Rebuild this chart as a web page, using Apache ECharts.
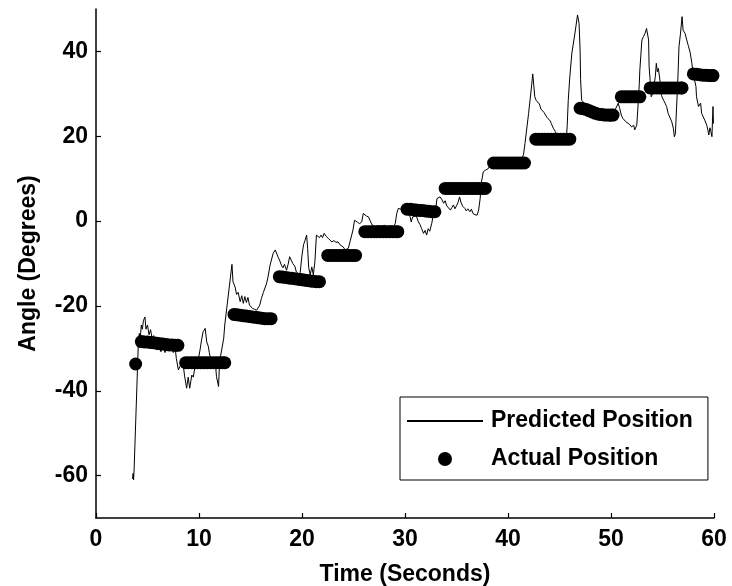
<!DOCTYPE html>
<html>
<head>
<meta charset="utf-8">
<script src="https://cdn.jsdelivr.net/npm/echarts@6/dist/echarts.min.js"></script>
<style>html,body{margin:0;padding:0;background:#fff;}#chart{width:732px;height:586px;}</style>
</head>
<body>
<div id="chart"></div>
<script>
// Predicted position (time in seconds, angle in degrees)
var predictedTime = [3.55,3.6,3.65,3.7,4.1,4.2,4.3,4.4,4.5,4.6,4.75,4.85,5.0,5.15,5.3,5.45,5.6,5.75,5.9,6.1,6.3,6.5,6.7,6.9,7.1,7.3,7.5,7.7,7.8,8.0,8.2,8.45,8.6,8.8,8.95,9.1,9.3,9.45,9.6,9.9,10.1,10.25,10.4,10.6,10.75,10.9,11.0,11.2,11.4,11.6,11.7,11.9,12.0,12.2,12.4,12.5,13.2,13.3,13.5,13.65,13.8,14.0,14.15,14.3,14.45,14.6,14.75,14.9,15.05,15.2,15.4,15.6,15.9,16.05,16.25,16.4,16.55,16.7,16.9,17.2,17.4,17.55,17.7,17.85,18.0,18.15,18.3,18.5,18.65,18.8,18.95,19.1,19.3,19.45,19.6,19.8,20.0,20.15,20.3,20.45,20.55,20.65,20.8,20.95,21.1,21.25,21.4,21.55,21.7,21.85,22.0,22.15,22.35,22.6,22.9,23.1,23.3,23.5,23.7,23.85,24.0,24.2,24.35,24.5,24.7,24.95,25.1,25.25,25.4,25.6,25.8,25.95,26.1,26.25,26.45,26.6,26.8,27.1,27.4,27.7,28.0,28.3,28.6,28.9,29.05,29.2,29.35,29.6,29.9,30.2,30.5,30.6,30.75,30.9,31.1,31.3,31.45,31.6,31.8,31.95,32.1,32.25,32.4,32.6,32.75,33.0,33.1,33.25,33.4,33.6,33.75,33.9,34.05,34.2,34.4,34.55,34.7,34.85,35.0,35.15,35.3,35.45,35.6,35.8,35.95,36.1,36.3,36.45,36.6,36.8,37.0,37.15,37.3,37.4,37.6,37.8,38.1,38.25,38.5,39.0,39.5,40.0,40.5,41.0,41.3,41.5,41.65,42.0,42.3,42.4,42.5,42.6,42.75,42.9,43.05,43.2,43.35,43.5,43.65,43.8,43.95,44.1,44.2,44.4,44.6,44.8,45.1,45.4,45.7,45.75,45.85,46.0,46.2,46.5,46.75,46.9,47.0,47.05,47.15,47.4,47.8,48.2,48.6,49.0,49.4,49.7,49.9,50.1,50.4,50.7,50.85,51.0,51.15,51.3,51.45,51.6,51.8,52.0,52.2,52.3,52.5,52.6,52.75,52.8,53.0,53.15,53.3,53.45,53.55,53.65,53.7,53.8,53.9,54.05,54.3,54.4,54.5,54.6,54.75,54.9,55.1,55.25,55.4,55.55,55.7,55.9,56.05,56.15,56.25,56.4,56.5,56.6,56.75,56.9,57.0,57.2,57.35,57.5,57.7,57.85,58.0,58.25,58.3,58.5,58.7,58.8,58.95,59.1,59.3,59.4,59.5,59.6,59.7,59.8,59.9,59.95];
var predictedAngle = [-60.8,-59.5,-61.0,-58.5,-29.6,-26.5,-27.5,-24.5,-25.5,-23.5,-22.6,-25.5,-24.5,-26.8,-25.6,-27.8,-27.0,-29.5,-30.4,-29.0,-30.8,-29.4,-31.0,-29.8,-30.6,-29.8,-31.0,-30.2,-32.4,-35.1,-34.0,-33.6,-36.5,-39.4,-36.8,-39.4,-36.3,-36.8,-34.4,-33.0,-30.4,-28.0,-26.1,-25.3,-28.5,-29.5,-31.0,-33.5,-32.8,-33.8,-36.7,-39.0,-33.0,-30.4,-27.6,-24.5,-10.2,-14.3,-15.5,-17.3,-16.8,-19.0,-17.6,-19.4,-17.8,-19.2,-18.0,-19.8,-19.4,-20.6,-20.8,-21.0,-19.8,-18.3,-16.8,-17.0,-14.8,-13.2,-10.4,-7.6,-6.8,-7.2,-8.6,-9.4,-10.4,-11.0,-10.2,-11.6,-10.2,-8.4,-9.2,-10.0,-10.6,-12.0,-11.6,-12.7,-8.0,-5.6,-4.5,-3.3,-6.5,-11.0,-12.7,-10.8,-12.7,-9.6,-3.3,-3.5,-3.9,-3.3,-3.9,-2.9,-3.6,-4.2,-4.9,-4.6,-5.0,-4.9,-5.6,-5.4,-6.1,-6.8,-6.9,-6.4,-4.5,-2.1,0.2,0.6,-0.3,-0.6,-0.2,1.8,2.0,1.2,1.0,0.9,-0.9,-1.3,-1.1,-1.2,-1.0,-1.3,-1.1,-1.3,-0.6,1.8,3.0,2.8,2.0,1.8,1.0,-0.2,1.0,0.6,1.2,-0.2,-0.8,-1.7,-2.9,-2.2,-3.3,-1.8,-2.4,-0.5,1.4,3.0,5.3,5.0,5.7,5.0,4.2,4.8,3.6,4.0,2.6,3.2,3.8,2.9,3.6,4.4,5.7,4.3,3.5,3.0,2.4,2.9,2.2,2.8,1.8,1.5,1.4,2.6,5.4,8.9,11.6,12.0,12.4,13.2,13.6,13.5,13.9,13.6,14.0,13.8,14.5,15.6,18.3,25.4,32.1,34.7,32.1,29.3,28.4,28.8,27.6,26.4,26.8,25.6,26.0,24.4,24.8,23.6,23.0,21.9,21.1,19.8,19.5,19.6,20.7,22.6,28.5,34.0,39.6,44.3,48.6,46.6,40.3,33.3,28.5,27.8,26.8,26.0,25.2,24.8,24.5,24.0,23.4,24.2,26.2,27.8,26.5,25.0,24.2,24.6,23.4,23.8,22.8,22.2,22.6,21.5,22.6,26.2,32.5,35.6,42.7,43.5,44.2,45.4,45.7,42.7,36.4,33.2,29.3,30.0,34.0,37.2,35.2,36.0,33.2,29.6,28.5,27.8,27.0,25.4,25.0,23.4,21.9,19.9,20.6,28.5,34.0,41.1,44.3,48.2,45.0,44.2,42.7,41.4,39.6,37.2,34.5,31.7,29.3,27.0,27.8,25.4,25.0,23.8,22.6,21.5,20.3,22.0,21.1,19.9,27.0,23.0];

// Actual position (time in seconds, angle in degrees)
var actualTime = [3.85,
  4.4,4.7,5.0,5.3,5.6,5.9,6.2,6.5,6.8,7.1,7.4,7.7,7.95,
  8.7,9.0,9.3,9.6,9.9,10.2,10.5,10.8,11.1,11.4,11.7,12.0,12.3,12.5,
  13.4,13.7,14.0,14.3,14.6,14.9,15.2,15.5,15.8,16.1,16.4,16.7,17.0,
  17.8,18.1,18.4,18.7,19.0,19.3,19.6,19.9,20.2,20.5,20.8,21.1,21.4,21.7,
  22.5,22.8,23.1,23.4,23.7,24.0,24.3,24.6,24.9,25.2,
  26.1,26.4,26.7,27.0,27.3,27.6,27.9,28.2,28.5,28.8,29.1,29.3,
  30.2,30.5,30.8,31.1,31.4,31.7,32.0,32.3,32.6,32.9,
  33.9,34.2,34.5,34.8,35.1,35.4,35.7,36.0,36.3,36.6,36.9,37.2,37.5,37.8,
  38.6,38.9,39.2,39.5,39.8,40.1,40.4,40.7,41.0,41.3,41.6,
  42.7,43.0,43.3,43.6,43.9,44.2,44.5,44.8,45.1,45.4,45.7,46.0,
  47.0,47.3,47.6,47.9,48.2,48.5,48.8,49.1,49.4,49.7,50.0,50.2,
  51.0,51.3,51.6,51.9,52.2,52.5,52.8,
  53.8,54.1,54.4,54.7,55.0,55.3,55.6,55.9,56.2,56.5,56.8,56.9,
  58.0,58.3,58.6,58.9,59.2,59.5,59.8,59.9];
var actualAngle = [-33.7,
  -28.4,-28.5,-28.5,-28.6,-28.7,-28.8,-28.9,-29.0,-29.1,-29.2,-29.2,-29.3,-29.3,
  -33.4,-33.4,-33.4,-33.4,-33.4,-33.4,-33.4,-33.4,-33.4,-33.4,-33.4,-33.4,-33.4,-33.4,
  -22.0,-22.1,-22.2,-22.3,-22.4,-22.5,-22.6,-22.7,-22.8,-22.9,-23.0,-23.0,-23.0,
  -13.1,-13.2,-13.3,-13.4,-13.5,-13.6,-13.7,-13.8,-13.9,-14.0,-14.1,-14.2,-14.3,-14.3,
  -8.1,-8.1,-8.1,-8.1,-8.1,-8.1,-8.1,-8.1,-8.1,-8.1,
  -2.5,-2.5,-2.5,-2.5,-2.5,-2.5,-2.5,-2.5,-2.5,-2.5,-2.5,-2.5,
  2.8,2.8,2.7,2.6,2.5,2.5,2.4,2.3,2.2,2.2,
  7.7,7.7,7.7,7.7,7.7,7.7,7.7,7.7,7.7,7.7,7.7,7.7,7.7,7.7,
  13.7,13.7,13.7,13.7,13.7,13.7,13.7,13.7,13.7,13.7,13.7,
  19.3,19.3,19.3,19.3,19.3,19.3,19.3,19.3,19.3,19.3,19.3,19.3,
  26.6,26.5,26.3,26.0,25.7,25.4,25.2,25.1,25.0,25.0,25.0,25.0,
  29.3,29.3,29.3,29.3,29.3,29.3,29.3,
  31.4,31.4,31.4,31.4,31.4,31.4,31.4,31.4,31.4,31.4,31.4,31.4,
  34.7,34.6,34.5,34.4,34.4,34.3,34.3,34.3];

var xTicks = [0, 10, 20, 30, 40, 50, 60];
var yTicks = [-60, -40, -20, 0, 20, 40];
var seriesNames = ['Predicted Position', 'Actual Position'];

var predictedData = predictedTime.map(function (t, i) { return [t, predictedAngle[i]]; });
var actualData = actualTime.map(function (t, i) { return [t, actualAngle[i]]; });

var FONT = '"Liberation Sans", Arial, Helvetica, sans-serif';
var chart = echarts.init(document.getElementById('chart'), null, { renderer: 'canvas' });
chart.setOption({
  animation: false,
  backgroundColor: '#ffffff',
  textStyle: { fontFamily: FONT, color: '#000' },
  grid: { left: 96, right: 18, top: 9, bottom: 68, containLabel: false, outerBoundsMode: 'none' },
  xAxis: {
    type: 'value', min: 0, max: 60, interval: 10,
    name: 'Time (Seconds)', nameLocation: 'middle', nameGap: 45,
    nameTextStyle: { fontSize: 23, fontWeight: 'bold', color: '#000', fontFamily: FONT },
    axisLine: { show: true, onZero: false, lineStyle: { color: '#000', width: 1.5 } },
    axisTick: { show: true, inside: true, length: 5, lineStyle: { color: '#000', width: 1.2 } },
    axisLabel: { fontSize: 23, fontWeight: 'bold', color: '#000', margin: 10, fontFamily: FONT, customValues: xTicks },
    splitLine: { show: false }
  },
  yAxis: {
    type: 'value', min: -70, max: 50,
    name: 'Angle (Degrees)', nameLocation: 'middle', nameGap: 56, nameRotate: 90,
    nameTextStyle: { fontSize: 23, fontWeight: 'bold', color: '#000', fontFamily: FONT },
    axisLine: { show: true, onZero: false, lineStyle: { color: '#000', width: 1.5 } },
    axisTick: { show: true, inside: true, length: 5, customValues: yTicks, lineStyle: { color: '#000', width: 1.2 } },
    axisLabel: { fontSize: 23, fontWeight: 'bold', color: '#000', margin: 8, fontFamily: FONT, customValues: yTicks },
    splitLine: { show: false }
  },
  legend: {
    data: [
      { name: seriesNames[0], itemStyle: { color: 'rgba(0,0,0,0)', borderColor: 'rgba(0,0,0,0)', borderWidth: 0, opacity: 0 } },
      { name: seriesNames[1] }
    ],
    orient: 'vertical',
    left: 400, top: 397,
    padding: [12, 15, 9, 6],
    itemGap: 14,
    itemWidth: 76, itemHeight: 14,
    borderColor: '#000', borderWidth: 1, borderRadius: 0,
    backgroundColor: '#fff',
    textStyle: { fontSize: 23, fontWeight: 'bold', color: '#000', fontFamily: FONT, lineHeight: 24, padding: [0, 0, 0, 3] },
    selectedMode: false
  },
  series: [
    {
      name: seriesNames[0], type: 'line', data: predictedData,
      symbol: 'none', showSymbol: false,
      lineStyle: { color: '#000', width: 1 },
      itemStyle: { color: '#000' },
      z: 2
    },
    {
      name: seriesNames[1], type: 'scatter', data: actualData,
      symbol: 'circle', symbolSize: 13,
      itemStyle: { color: '#000', opacity: 1 },
      z: 3
    }
  ]
});
</script>
</body>
</html>
